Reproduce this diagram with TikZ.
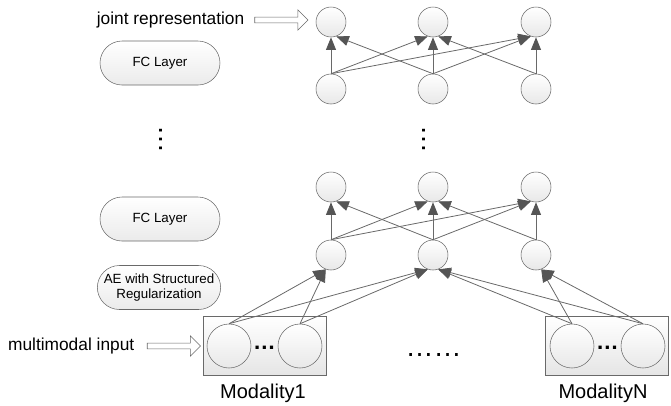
\documentclass[tikz,border=0pt]{standalone}
\usepackage{fontspec}
\setmainfont{Liberation Sans}
\usetikzlibrary{arrows.meta,shapes.misc,shapes.arrows}
\definecolor{edgegray}{RGB}{105,105,105}
\definecolor{tipgray}{RGB}{85,85,85}
\tikzset{
  unit/.style={circle, draw=edgegray, top color=white, bottom color=black!9,
    minimum size=22.5pt, inner sep=0pt},
  inunit/.style={unit, minimum size=33pt},
  inbox/.style={rectangle, draw=edgegray, top color=white, bottom color=black!10,
    minimum width=92pt, minimum height=44pt},
  layer/.style={rounded rectangle, draw=edgegray, top color=white, bottom color=black!8,
    minimum width=92pt, minimum height=33pt, inner sep=1pt, align=center,
    font=\fontsize{10}{11.8}\selectfont},
  conn/.style={draw=edgegray, line width=0.6pt,
    -{Triangle[length=9.5pt,width=7.5pt,color=tipgray]}},
  hollow/.style={single arrow, draw=edgegray, fill=white, minimum height=40pt,
    inner sep=1.9pt, single arrow head extend=5.6pt},
  lbl/.style={font=\fontsize{13}{15}\selectfont},
  modlbl/.style={font=\fontsize{15}{18}\selectfont},
  dotsbig/.style={font=\fontsize{21}{24}\selectfont, inner sep=0pt},
  dotssmall/.style={font=\fontsize{17}{20}\selectfont\bfseries, inner sep=0pt},
}
\begin{document}
\begin{tikzpicture}[x=0.75pt, y=-0.75pt]
\useasboundingbox (0,0) rectangle (671,405);
% hidden layers
\foreach \n/\cx in {1/331, 2/433, 3/536} {
  \node[unit] (t\n) at (\cx,22) {};
  \node[unit] (u\n) at (\cx,89) {};
  \node[unit] (v\n) at (\cx,187) {};
  \node[unit] (w\n) at (\cx,255) {};
}
\foreach \a/\b in {t/u, v/w} {
  \draw[conn] (\b1.north) -- (\a1.south);
  \draw[conn] (\b1.north) -- (\a2.-110);
  \draw[conn] (\b1.north) -- (\a3.-110);
  \draw[conn] (\b2.north) -- (\a1.-70);
  \draw[conn] (\b2.north) -- (\a2.south);
  \draw[conn] (\b2.north) -- (\a3.-110);
  \draw[conn] (\b3.north) -- (\a2.-70);
  \draw[conn] (\b3.north) -- (\a3.south);
}
% input modalities
\node[inbox] (box1) at (264.5,345.5) {};
\node[inbox] (boxN) at (606.5,345.5) {};
\node[inunit] (x11) at (229,346) {};
\node[inunit] (x12) at (300,346) {};
\node[inunit] (xN1) at (572,346) {};
\node[inunit] (xN2) at (643,346) {};
\node[dotssmall] (d1) at (264.5,348) {…};
\node[dotssmall] (dN) at (607.5,348) {…};
\foreach \s in {x11,x12} {
  \draw[conn] (\s.north) -- (w1.-110);
  \draw[conn] (\s.north) -- (w2.-110);
}
\foreach \s in {xN1,xN2} {
  \draw[conn] (\s.north) -- (w2.-70);
  \draw[conn] (\s.north) -- (w3.-70);
}
\node[modlbl] (m1) at (263,393) {Modality1};
\node[modlbl] (mN) at (603,393) {ModalityN};
\node[dotsbig] (dmid) at (433.5,355) {……};
\node[dotsbig, rotate=90] (vd1) at (161,139) {…};
\node[dotsbig, rotate=90] (vd2) at (424,139) {…};
% layer labels
\node[layer] (fc2) at (160,63) {FC Layer};
\node[layer] (fc1) at (160,219) {FC Layer};
\node[layer] (ae) at (159,287.5) {AE with Structured\\Regularization};
% pointers
\node[hollow] (jarr) at (280,20) {};
\node[lbl, anchor=east] (jlbl) at (249,20) {joint representation};
\node[hollow] (marr) at (172.5,346) {};
\node[lbl, anchor=east] (mlbl) at (139,346) {multimodal input};
\end{tikzpicture}
\end{document}
